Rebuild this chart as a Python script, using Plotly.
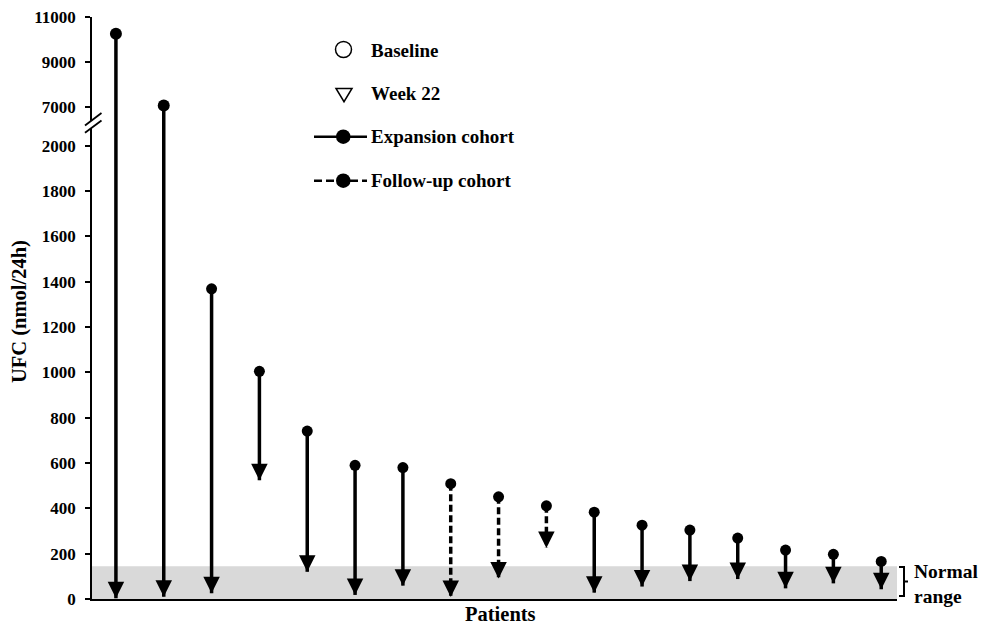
import plotly.graph_objects as go

# ---------------- data ----------------
patients = list(range(1, 18))
baseline = [10250, 7050, 1369, 1005, 741, 590, 580, 509, 451, 411, 383, 326, 304, 269, 216, 197, 166]
week22 = [3, 10, 25, 524, 120, 18, 59, 9, 91, 225, 28, 55, 79, 88, 47, 69, 43]
cohort = ["Expansion"] * 7 + ["Follow-up"] * 3 + ["Expansion"] * 7
normal_upper = 145
lower_ticks = [0, 200, 400, 600, 800, 1000, 1200, 1400, 1600, 1800, 2000]
upper_ticks = [7000, 9000, 11000]

# ---------------- layout constants ----------------
W, H = 981, 627
L, T = 92, 17
PW, PH = 805, 582
R, B = W - L - PW, H - T - PH
BREAK_PX = 123             # pixel row of the axis break
LOW_SCALE = 0.2266         # px per unit (lower panel)
UP_SCALE = 0.022425        # px per unit (upper panel)
d1 = (599 - BREAK_PX) / PH
low_top = (599 - BREAK_PX) / LOW_SCALE
up_bottom = 11000 - (BREAK_PX - 17) / UP_SCALE
UP_SPLIT = 2000            # values above this belong to the upper panel


def PX(x):
    return (x - 92) / PW


def PY(y):
    return (599 - y) / PH


FONT = "Liberation Serif"
fig = go.Figure()

# ---------- connecting lines (drawn in both panels, clipped) ----------
for coh, dash in [("Expansion", "solid"), ("Follow-up", "7px,3.5px")]:
    xs, ys = [], []
    xs2, ys2 = [], []
    for p, b0, w, c in zip(patients, baseline, week22, cohort):
        if c != coh:
            continue
        xs += [p, p, None]
        ys += [b0, w, None]
        if b0 > UP_SPLIT:
            xs2 += [p, p, None]
            ys2 += [b0, w, None]
    fig.add_trace(go.Scatter(x=xs, y=ys, mode="lines", yaxis="y",
                             line=dict(color="black", width=3.5, dash=dash),
                             hoverinfo="skip", showlegend=False))
    if xs2:
        fig.add_trace(go.Scatter(x=xs2, y=ys2, mode="lines", yaxis="y2",
                                 line=dict(color="black", width=3.5, dash=dash),
                                 hoverinfo="skip", showlegend=False))

# ---------- week 22 arrow heads ----------
fig.add_trace(go.Scatter(x=patients, y=week22, mode="markers", yaxis="y",
                         marker=dict(symbol="arrow-down", size=16.5, color="black",
                                     line=dict(width=0)),
                         cliponaxis=False, name="Week 22", showlegend=False))

# ---------- baseline dots ----------
lx = [p for p, b0 in zip(patients, baseline) if b0 <= UP_SPLIT]
ly = [b0 for b0 in baseline if b0 <= UP_SPLIT]
ux = [p for p, b0 in zip(patients, baseline) if b0 > UP_SPLIT]
uy = [b0 for b0 in baseline if b0 > UP_SPLIT]
fig.add_trace(go.Scatter(x=lx, y=ly, mode="markers", yaxis="y",
                         marker=dict(symbol="circle", size=11, color="black"),
                         cliponaxis=False, name="Baseline", showlegend=False))
fig.add_trace(go.Scatter(x=ux, y=uy, mode="markers", yaxis="y2",
                         marker=dict(symbol="circle", size=12, color="black"),
                         cliponaxis=False, name="Baseline", showlegend=False))

shapes = []
# normal range band
shapes.append(dict(type="rect", xref="paper", yref="y", x0=0, x1=1, y0=0, y1=normal_upper,
                   fillcolor="#d9d9d9", line=dict(width=0), layer="below"))

# axis break marks
shapes.append(dict(type="path", xref="paper", yref="paper",
                   path=f"M{PX(84)},{PY(126.5)} L{PX(101)},{PY(114)} L{PX(101)},{PY(121)} L{PX(84)},{PY(133.5)} Z",
                   fillcolor="white", line=dict(width=0), layer="above"))
for y0, y1 in [(125.5, 113), (132.7, 120.5)]:
    shapes.append(dict(type="line", xref="paper", yref="paper",
                       x0=PX(85), y0=PY(y0), x1=PX(101.5), y1=PY(y1),
                       line=dict(color="black", width=1.8), layer="above"))

# bracket for normal range
shapes.append(dict(type="path", xref="paper", yref="paper",
                   path=(f"M{PX(899)},{PY(567)} L{PX(904)},{PY(567)} L{PX(904)},{PY(596)} L{PX(899)},{PY(596)} "
                         f"M{PX(904)},{PY(581.5)} L{PX(908)},{PY(581.5)}"),
                   line=dict(color="black", width=2)))

# legend glyphs
shapes.append(dict(type="circle", xref="paper", yref="paper",
                   x0=PX(335.5), x1=PX(351.5), y0=PY(57.5), y1=PY(41.5),
                   line=dict(color="black", width=1.5)))
shapes.append(dict(type="path", xref="paper", yref="paper",
                   path=f"M{PX(336)},{PY(88.5)} L{PX(352)},{PY(88.5)} L{PX(344)},{PY(101.7)} Z",
                   line=dict(color="black", width=1.5)))
for yy, dash in [(136.7, "solid"), (180.7, "8px,4px")]:
    shapes.append(dict(type="line", xref="paper", yref="paper",
                       x0=PX(314), x1=PX(367), y0=PY(yy), y1=PY(yy),
                       line=dict(color="black", width=2.5, dash=dash)))
    shapes.append(dict(type="circle", xref="paper", yref="paper",
                       x0=PX(336), x1=PX(350.5), y0=PY(yy + 7.2), y1=PY(yy - 7.2),
                       fillcolor="black", line=dict(color="black", width=0)))

annotations = []
for yy, txt in [(50, "Baseline"), (94, "Week 22"), (136.7, "Expansion cohort"), (180.7, "Follow-up cohort")]:
    annotations.append(dict(xref="paper", yref="paper", x=PX(369), y=PY(yy), text=txt,
                            showarrow=False, xanchor="left", yanchor="middle",
                            font=dict(family=FONT, size=19, color="black", weight="bold")))
annotations.append(dict(xref="paper", yref="paper", x=PX(912), y=PY(584), text="Normal<br>range",
                        showarrow=False, xanchor="left", yanchor="middle", align="left",
                        font=dict(family=FONT, size=19.5, color="black", weight="bold")))
annotations.append(dict(xref="paper", yref="paper", x=PX(500), y=PY(614), text="Patients",
                        showarrow=False, xanchor="center", yanchor="middle",
                        font=dict(family=FONT, size=20.5, color="black", weight="bold")))
annotations.append(dict(xref="paper", yref="paper", x=PX(19), y=PY(312), text="UFC (nmol/24h)",
                        textangle=-90, showarrow=False, xanchor="center", yanchor="middle",
                        font=dict(family=FONT, size=20.5, color="black", weight="bold")))

tickfont = dict(family=FONT, size=17, color="black", weight="bold")
common_y = dict(showline=True, linecolor="black", linewidth=1.6, ticks="outside",
                ticklen=5, tickwidth=1.6, tickcolor="black", tickfont=tickfont,
                ticklabelstandoff=6, ticklabeloverflow="allow", showgrid=False,
                zeroline=False, anchor="x", automargin=False)
fig.update_layout(
    width=W, height=H,
    margin=dict(l=L, r=R, t=T, b=B, autoexpand=False),
    paper_bgcolor="white", plot_bgcolor="white",
    font=dict(family=FONT, color="black"),
    showlegend=False,
    xaxis=dict(range=[0.5, 17.33], showline=True, linecolor="black", linewidth=2,
               showticklabels=False, ticks="", showgrid=False, zeroline=False,
               anchor="y", automargin=False),
    yaxis=dict(domain=[0, d1], range=[0, low_top], tickvals=lower_ticks,
               ticktext=[str(v) for v in lower_ticks], **common_y),
    yaxis2=dict(domain=[d1, 1], range=[up_bottom, 11000], tickvals=upper_ticks,
                ticktext=[str(v) for v in upper_ticks], **common_y),
    shapes=shapes,
    annotations=annotations,
)

# remove the browser's default page margin so the 981x627 figure fills the window
fig.write_html("out.html",
               config={"displayModeBar": False},
               post_script="document.body.style.margin='0px';document.body.style.overflow='hidden';")
